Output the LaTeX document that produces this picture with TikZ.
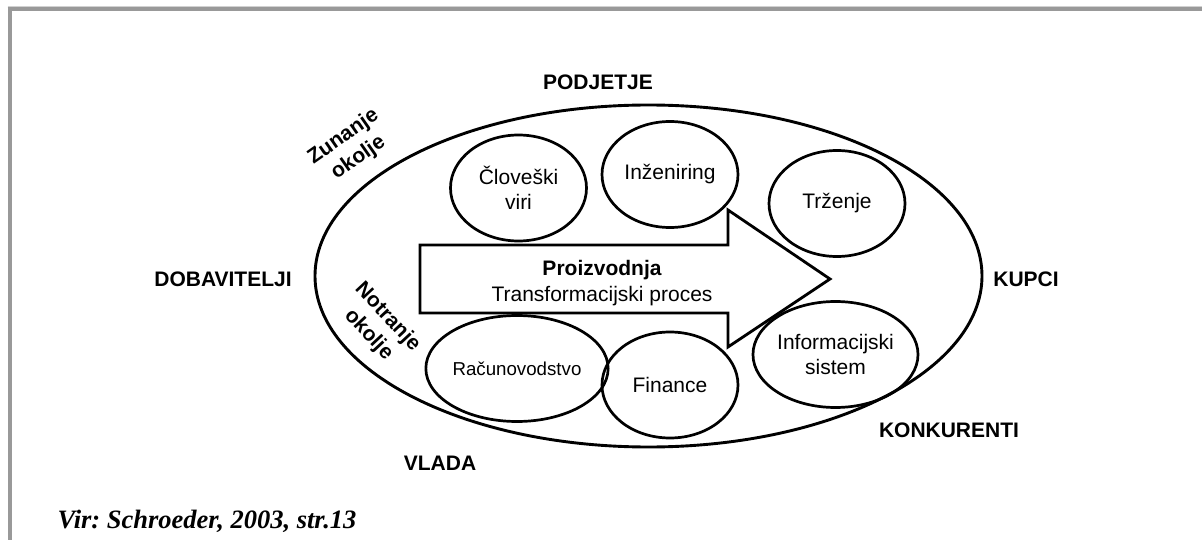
\documentclass[tikz,border=0pt]{standalone}
\usepackage{fontspec}
\setmainfont{Liberation Sans}
\newfontfamily\citefont{Liberation Serif}
\usetikzlibrary{shapes.geometric}
\frenchspacing
\begin{document}
\begin{tikzpicture}[x=1pt,y=-1pt,
  dept/.style={ellipse, draw, line width=2.7pt, inner sep=0pt,
    minimum width=136pt, minimum height=106pt, align=center,
    font=\fontsize{21}{25}\selectfont},
  party/.style={anchor=base, font=\fontsize{21}{25}\selectfont\bfseries},
  envlabel/.style={align=center, font=\fontsize{21}{26}\selectfont\bfseries},
  frameline/.style={black!40, line width=4pt},
]
\useasboundingbox (0,0) rectangle (1202,540);
\fill[white] (0,0) rectangle (1202,540);

% page frame (top and left edges)
\draw[black!18, line width=1pt] (7.5,7) -- (1202,7);
\draw[frameline] (7.5,9.5) -- (1202,9.5);
\draw[frameline] (9.5,7.5) -- (9.5,540);

% the company
\node[ellipse, draw, line width=2.9pt, inner sep=0pt,
      minimum width=667pt, minimum height=342pt] (company) at (648.5,276) {};

% departments
\node[dept] (hr)   at (518.5,188)   {Človeški\\viri};
\node[dept] (eng)  at (670,174.5)   {Inženiring};
\node[dept] (mkt)  at (837,203.5)   {Trženje};
\node[dept, font=\fontsize{18.7}{22}\selectfont] (acc) at (517,368.5) {Računovodstvo};
\node[dept] (fin)  at (670,385)     {Finance};
\node[dept] (info) at (835.5,354.5) {Informacijski\\sistem};

% transformation process arrow
\draw[line width=2.8pt, fill=white, line join=miter]
  (420,245) -- (728,245) -- (728,210) -- (830,279) -- (728,347)
  -- (728,313) -- (420,313) -- cycle;
\node[anchor=base, font=\fontsize{21}{25}\selectfont\bfseries] (prod) at (602,275) {Proizvodnja};
\node[anchor=base, font=\fontsize{21}{25}\selectfont] (proc) at (602,301) {Transformacijski proces};

% environment labels
\node[envlabel, rotate=35]  (outer) at (351,147.5) {Zunanje\\okolje};
\node[envlabel, rotate=-47] (inner) at (378,326)   {Notranje\\okolje};

% stakeholders
\node[party] (top)  at (598,90)  {PODJETJE};
\node[party] (sup)  at (223,286) {DOBAVITELJI};
\node[party] (cus)  at (1026,286) {KUPCI};
\node[party] (comp) at (949,437) {KONKURENTI};
\node[party] (gov)  at (440,470) {VLADA};

% source
\node[anchor=base west, font=\fontsize{26.5}{30}\citefont\bfseries\itshape] (src) at (54,528)
  {Vir: Schroeder, 2003, str.13};
\end{tikzpicture}
\end{document}
